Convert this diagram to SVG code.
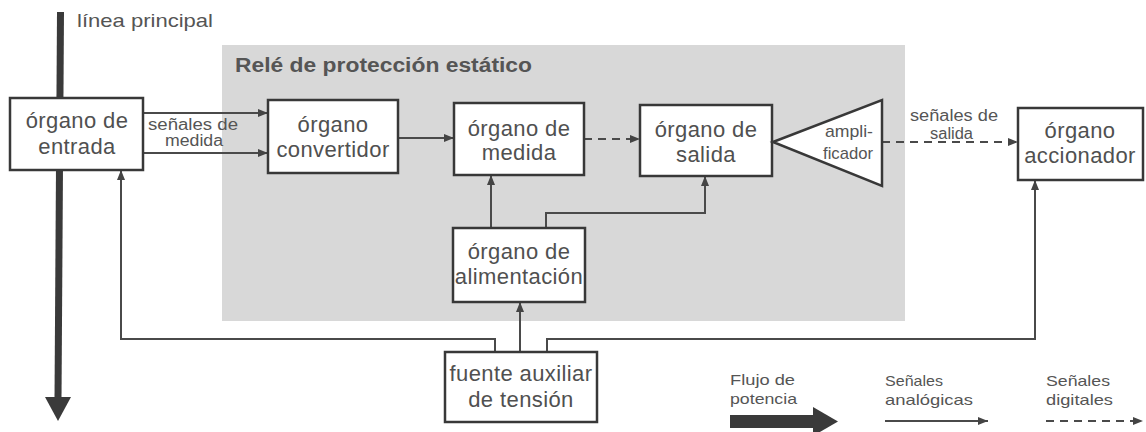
<svg xmlns="http://www.w3.org/2000/svg" width="1146" height="432" viewBox="0 0 1146 432">
<defs>
<style>
.box{fill:#fff;stroke:#383838;stroke-width:2.5}
.c{fill:none;stroke:#4a4a4a;stroke-width:2}
.d{fill:none;stroke:#4a4a4a;stroke-width:2;stroke-dasharray:8,6}
.t{font-family:"Liberation Sans",Arial,sans-serif;font-size:22px;fill:#505050;text-anchor:middle;letter-spacing:0.4px}
.s{font-family:"Liberation Sans",Arial,sans-serif;font-size:16px;fill:#555}
.title{font-family:"Liberation Sans",Arial,sans-serif;font-size:20px;font-weight:bold;fill:#555}
</style>
<marker id="ah" viewBox="0 0 10 8" refX="10" refY="4" markerWidth="10" markerHeight="8" markerUnits="userSpaceOnUse" orient="auto">
<path d="M0,0 L10,4 L0,8 z" fill="#444"/>
</marker>
</defs>
<rect x="0" y="0" width="1146" height="432" fill="#fff"/>
<rect id="rele" x="222" y="45" width="683" height="276" fill="#d8d8d8"/>
<text class="title" x="235" y="72" textLength="297" lengthAdjust="spacingAndGlyphs">Relé de protección estático</text>

<g id="linea-principal">
<line x1="60.5" y1="12" x2="58" y2="399" stroke="#3a3a3a" stroke-width="7"/>
<polygon points="45,397 71,397 58,421" fill="#3a3a3a"/>
<text class="s" x="77" y="27" style="font-size:19px" textLength="136" lengthAdjust="spacingAndGlyphs">línea principal</text>
</g>

<g id="connectors">
<line class="c" x1="143" y1="113" x2="268" y2="113" marker-end="url(#ah)"/>
<line class="c" x1="143" y1="153" x2="268" y2="153" marker-end="url(#ah)"/>
<line class="c" x1="398" y1="138" x2="454" y2="138" marker-end="url(#ah)"/>
<line class="d" x1="584" y1="139" x2="640" y2="139" marker-end="url(#ah)"/>
<line class="d" x1="882" y1="142" x2="1018" y2="142" marker-end="url(#ah)"/>
<line class="c" x1="491" y1="228" x2="491" y2="175" marker-end="url(#ah)"/>
<polyline class="c" points="546,228 546,213 705,213 705,176" marker-end="url(#ah)"/>
<line class="c" x1="520" y1="352" x2="520" y2="302" marker-end="url(#ah)"/>
<polyline class="c" points="495,352 495,339 121,339 121,170" marker-end="url(#ah)"/>
<polyline class="c" points="547,352 547,339 1035,339 1035,180" marker-end="url(#ah)"/>
<text class="s" x="148" y="130" textLength="90" lengthAdjust="spacingAndGlyphs">señales de</text>
<text class="s" x="165" y="146" textLength="58" lengthAdjust="spacingAndGlyphs">medida</text>
<text class="s" x="910" y="121" textLength="88" lengthAdjust="spacingAndGlyphs">señales de</text>
<text class="s" x="930" y="139" textLength="43" lengthAdjust="spacingAndGlyphs">salida</text>
</g>

<g id="organo-entrada">
<rect class="box" x="10" y="98" width="133" height="72"/>
<text class="t" x="77" y="128">órgano de</text>
<text class="t" x="77" y="154">entrada</text>
</g>
<g id="organo-convertidor">
<rect class="box" x="268" y="100" width="130" height="73"/>
<text class="t" x="333" y="132">órgano</text>
<text class="t" x="333" y="157">convertidor</text>
</g>
<g id="organo-medida">
<rect class="box" x="454" y="103" width="130" height="72"/>
<text class="t" x="519" y="136">órgano de</text>
<text class="t" x="519" y="160">medida</text>
</g>
<g id="organo-salida">
<rect class="box" x="640" y="105" width="132" height="71"/>
<text class="t" x="706" y="137">órgano de</text>
<text class="t" x="706" y="162">salida</text>
</g>
<g id="amplificador">
<polygon class="box" points="773,142 882,100 882,186"/>
<text class="s" x="825" y="137" style="font-size:17px" textLength="48" lengthAdjust="spacingAndGlyphs">ampli-</text>
<text class="s" x="823" y="159" style="font-size:17px" textLength="50" lengthAdjust="spacingAndGlyphs">ficador</text>
</g>
<g id="organo-accionador">
<rect class="box" x="1018" y="108" width="125" height="72"/>
<text class="t" x="1080" y="138">órgano</text>
<text class="t" x="1080" y="163">accionador</text>
</g>
<g id="organo-alimentacion">
<rect class="box" x="453" y="228" width="132" height="74"/>
<text class="t" x="519" y="259">órgano de</text>
<text class="t" x="519" y="284">alimentación</text>
</g>
<g id="fuente-auxiliar">
<rect class="box" x="445" y="352" width="152" height="70"/>
<text class="t" x="521" y="381">fuente auxiliar</text>
<text class="t" x="521" y="407">de tensión</text>
</g>

<g id="leyenda">
<text class="s" x="730" y="385" style="font-size:15px" textLength="65" lengthAdjust="spacingAndGlyphs">Flujo de</text>
<text class="s" x="730" y="404" style="font-size:15px" textLength="67" lengthAdjust="spacingAndGlyphs">potencia</text>
<rect x="730" y="415" width="85" height="13" fill="#3a3a3a"/>
<polygon points="813,407 838,421.5 813,436" fill="#3a3a3a"/>
<text class="s" x="885" y="386" style="font-size:15px" textLength="58" lengthAdjust="spacingAndGlyphs">Señales</text>
<text class="s" x="885" y="405" style="font-size:15px" textLength="88" lengthAdjust="spacingAndGlyphs">analógicas</text>
<line class="c" x1="885" y1="421" x2="988" y2="421" marker-end="url(#ah)"/>
<text class="s" x="1046" y="386" style="font-size:15px" textLength="64" lengthAdjust="spacingAndGlyphs">Señales</text>
<text class="s" x="1046" y="405" style="font-size:15px" textLength="67" lengthAdjust="spacingAndGlyphs">digitales</text>
<line class="d" x1="1046" y1="421" x2="1143" y2="421" marker-end="url(#ah)"/>
</g>
</svg>
